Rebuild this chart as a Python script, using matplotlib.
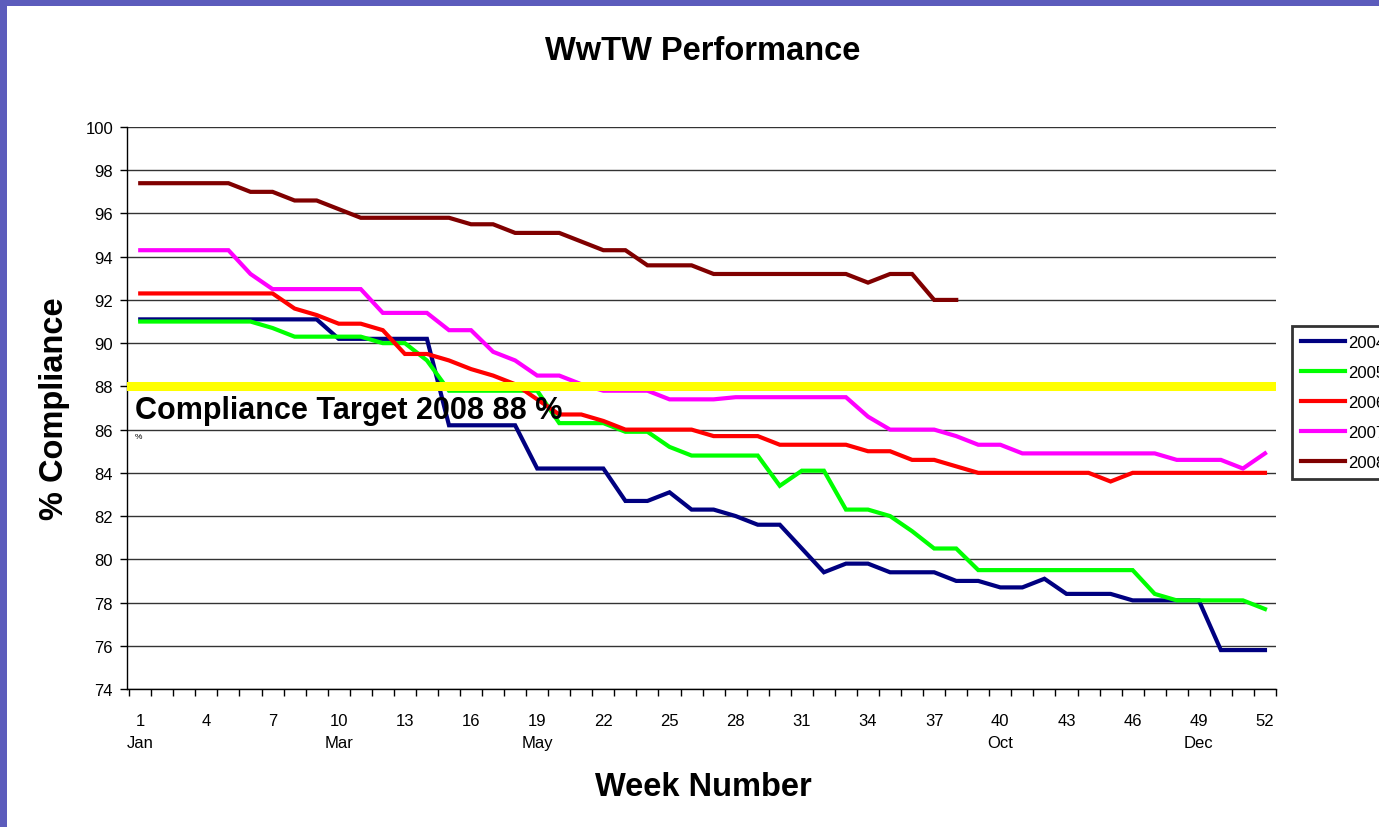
import numpy as np
import matplotlib.pyplot as plt
from matplotlib.patches import Rectangle

plt.rcParams['font.family'] = ['Liberation Sans', 'DejaVu Sans']

# data: % compliance by week number
weeks = np.arange(1, 53)
c2004 = [91.1, 91.1, 91.1, 91.1, 91.1, 91.1, 91.1, 91.1, 91.1, 90.2,
         90.2, 90.2, 90.2, 90.2, 86.2, 86.2, 86.2, 86.2, 84.2, 84.2,
         84.2, 84.2, 82.7, 82.7, 83.1, 82.3, 82.3, 82.0, 81.6, 81.6,
         80.5, 79.4, 79.8, 79.8, 79.4, 79.4, 79.4, 79.0, 79.0, 78.7,
         78.7, 79.1, 78.4, 78.4, 78.4, 78.1, 78.1, 78.1, 78.1, 75.8,
         75.8, 75.8]
c2005 = [91.0, 91.0, 91.0, 91.0, 91.0, 91.0, 90.7, 90.3, 90.3, 90.3,
         90.3, 90.0, 90.0, 89.2, 87.8, 87.8, 87.8, 87.8, 87.8, 86.3,
         86.3, 86.3, 85.9, 85.9, 85.2, 84.8, 84.8, 84.8, 84.8, 83.4,
         84.1, 84.1, 82.3, 82.3, 82.0, 81.3, 80.5, 80.5, 79.5, 79.5,
         79.5, 79.5, 79.5, 79.5, 79.5, 79.5, 78.4, 78.1, 78.1, 78.1,
         78.1, 77.7]
c2006 = [92.3, 92.3, 92.3, 92.3, 92.3, 92.3, 92.3, 91.6, 91.3, 90.9,
         90.9, 90.6, 89.5, 89.5, 89.2, 88.8, 88.5, 88.1, 87.4, 86.7,
         86.7, 86.4, 86.0, 86.0, 86.0, 86.0, 85.7, 85.7, 85.7, 85.3,
         85.3, 85.3, 85.3, 85.0, 85.0, 84.6, 84.6, 84.3, 84.0, 84.0,
         84.0, 84.0, 84.0, 84.0, 83.6, 84.0, 84.0, 84.0, 84.0, 84.0,
         84.0, 84.0]
c2007 = [94.3, 94.3, 94.3, 94.3, 94.3, 93.2, 92.5, 92.5, 92.5, 92.5,
         92.5, 91.4, 91.4, 91.4, 90.6, 90.6, 89.6, 89.2, 88.5, 88.5,
         88.1, 87.8, 87.8, 87.8, 87.4, 87.4, 87.4, 87.5, 87.5, 87.5,
         87.5, 87.5, 87.5, 86.6, 86.0, 86.0, 86.0, 85.7, 85.3, 85.3,
         84.9, 84.9, 84.9, 84.9, 84.9, 84.9, 84.9, 84.6, 84.6, 84.6,
         84.2, 84.9]
c2008 = [97.4, 97.4, 97.4, 97.4, 97.4, 97.0, 97.0, 96.6, 96.6, 96.2,
         95.8, 95.8, 95.8, 95.8, 95.8, 95.5, 95.5, 95.1, 95.1, 95.1,
         94.7, 94.3, 94.3, 93.6, 93.6, 93.6, 93.2, 93.2, 93.2, 93.2,
         93.2, 93.2, 93.2, 92.8, 93.2, 93.2, 92.0, 92.0]
target = 88

series = [('2004', c2004, '#000080'), ('2005', c2005, '#00FF00'),
          ('2006', c2006, '#FF0000'), ('2007', c2007, '#FF00FF'),
          ('2008', c2008, '#800000')]

months = {1: 'Jan', 10: 'Mar', 19: 'May', 40: 'Oct', 49: 'Dec'}
label_weeks = list(range(1, 53, 3))
yticks = list(range(74, 101, 2))

fig = plt.figure(figsize=(13.79, 8.28), dpi=100)
fig.patch.set_facecolor('#5C5CBC')
fig.add_artist(Rectangle((7 / 1379, 0), 1, 1 - 7 / 828, transform=fig.transFigure,
                         facecolor='white', edgecolor='none', zorder=-10))

ax = fig.add_axes([127 / 1379, 1 - 690 / 828, (1276 - 127) / 1379, (690 - 128) / 828])
ax.set_facecolor('white')

for name, vals, col in series:
    ax.plot(weeks[:len(vals)], vals, color=col, lw=3, label=name,
            solid_joinstyle='miter', zorder=3)

ax.axhline(target, color='#FFFF00', lw=6.5, zorder=4)
ax.text(0.75, 86.9, 'Compliance Target 2008 88 %', fontsize=22, fontweight='bold',
        va='center', ha='left', zorder=5)
ax.text(0.75, 85.7, '%', fontsize=6, va='center', ha='left', zorder=5)

ax.set_xlim(0.4, 52.5)
ax.set_ylim(74, 100)
ax.set_yticks(yticks)
ax.yaxis.grid(True, color='#333333', lw=1)
ax.set_axisbelow(True)
ax.tick_params(axis='y', labelsize=12, length=5, width=1, pad=5)

ax.set_xticks(label_weeks)
ax.set_xticklabels([f'{w}\n{months[w]}' if w in months else str(w) for w in label_weeks],
                   va='top', linespacing=1.6)
ax.set_xticks(np.arange(0.5, 53, 1), minor=True)
ax.tick_params(axis='x', which='major', length=0, labelsize=12, pad=17)
ax.tick_params(axis='x', which='minor', length=5, width=1)

for s in ['top', 'right']:
    ax.spines[s].set_visible(False)
for s in ['left', 'bottom']:
    ax.spines[s].set_color('black')
    ax.spines[s].set_linewidth(1)

fig.text(703 / 1379, 1 - 51 / 828, 'WwTW Performance', fontsize=23.5, fontweight='bold',
         ha='center', va='center')
fig.text(703 / 1379, 1 - 788 / 828, 'Week Number', fontsize=23.5, fontweight='bold',
         ha='center', va='center')
fig.text(55 / 1379, 1 - 409 / 828, '% Compliance', fontsize=23.5, fontweight='bold',
         ha='center', va='center', rotation=90)

leg = fig.legend(loc='upper left', bbox_to_anchor=(1292 / 1379, 1 - 327 / 828),
                 fontsize=12, frameon=True, fancybox=False, handlelength=2.6,
                 handletextpad=0.2, labelspacing=0.9, borderpad=0.55, borderaxespad=0)
leg.get_frame().set_edgecolor('black')
leg.get_frame().set_linewidth(2)

fig.savefig('out.png', dpi=100, facecolor=fig.get_facecolor())
